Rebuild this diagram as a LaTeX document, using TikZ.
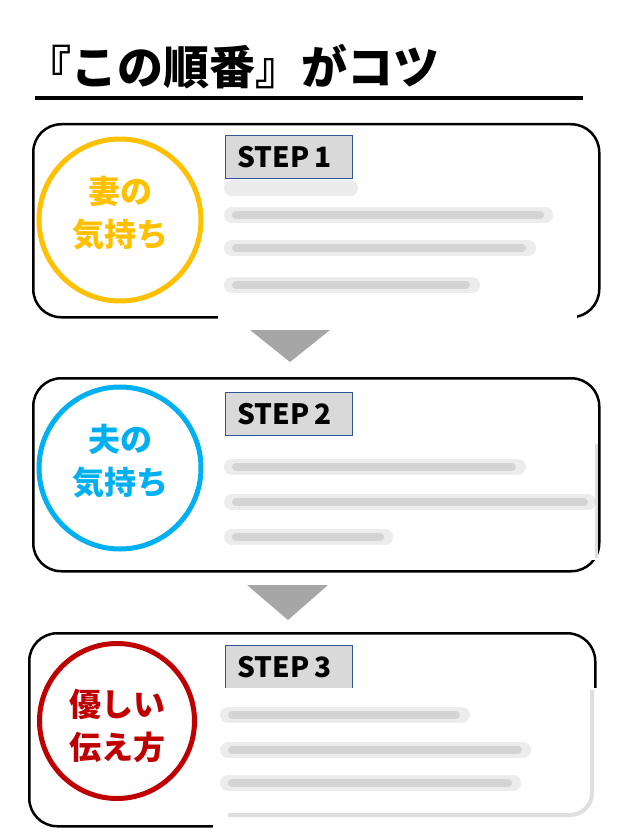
\documentclass[tikz,border=0pt]{standalone}
\usepackage{fontspec}
\setmainfont{Noto Sans CJK JP}
\usetikzlibrary{positioning}
\definecolor{tsuma}{HTML}{FFC000}
\definecolor{otto}{HTML}{00B0F0}
\definecolor{yasashii}{HTML}{C00000}
\definecolor{sankakuiro}{HTML}{A6A6A6}
\definecolor{stepwaku}{HTML}{2F5597}
\definecolor{stepnuri}{HTML}{D9D9D9}

\begin{document}
\begin{tikzpicture}[
    x=1pt, y=-1pt,
    waku/.style={
        draw, line width=2.5pt, rounded corners=28pt,
        minimum width=566pt, minimum height=193pt,
        anchor=north west, inner sep=0pt
    },
    maru/.style={
        circle, draw=#1, line width=5pt,
        minimum size=162pt, inner sep=0pt
    },
    marumoji/.style={
        text=#1, align=center, inner sep=0pt,
        font=\bfseries\fontsize{32}{43}\selectfont
    },
    stepbox/.style={
        draw=stepwaku, line width=0.8pt, fill=stepnuri, anchor=north west,
        minimum width=127pt, minimum height=43pt, inner xsep=12pt,
        text width=103pt, align=left,
        font=\bfseries\fontsize{28}{28}\selectfont
    },
    kakushi/.style={fill=white, draw=none},
    bokashi/.style={line width=16pt, line cap=round, draw=gray, opacity=0.15},
    bokashisen/.style={line width=8pt, line cap=round, draw=gray, opacity=0.22},
    sankaku/.style={fill=sankakuiro}
]
\useasboundingbox (0,0) rectangle (628,837);

% Title
\node[anchor=west, inner sep=0pt, font=\bfseries\fontsize{46}{46}\selectfont] (title) at (25,67) {『この順番』がコツ};
\draw[line width=4pt] (35,98) -- (583,98);

% Boxes
\node[waku] (waku1) at (32,123) {};
\node[waku] (waku2) at (32,377) {};
\node[waku] (waku3) at (28,632) {};

\node[maru=tsuma] (maru1) at (120,220) {};
\node[maru=otto] (maru2) at (120,468) {};
\node[maru=yasashii, minimum size=155pt] (maru3) at (117,721) {};
\node[marumoji=tsuma] (moji1) at ([yshift=7pt]maru1.center) {妻の\\気持ち};
\node[marumoji=otto] (moji2) at ([yshift=7pt]maru2.center) {夫の\\気持ち};
\node[marumoji=yasashii] (moji3) at ([yshift=-5pt]maru3.center) {優しい\\伝え方};

\node[stepbox, below right=12pt and 193pt of waku1.north west] (step1) {STEP\,1};
\node[stepbox, below right=15pt and 193pt of waku2.north west] (step2) {STEP\,2};
\node[stepbox, below right=13pt and 197pt of waku3.north west] (step3) {STEP\,3};

% Blurred text
\fill[kakushi] (218,180) rectangle (577,322);
\draw[bokashi] (232,188) -- (350,188);
\draw[bokashi] (232,215) -- (545,215);
\draw[bokashisen] (236,215) -- (540,215);
\draw[bokashi] (232,248) -- (528,248);
\draw[bokashisen] (236,248) -- (522,248);
\draw[bokashi] (232,285) -- (472,285);
\draw[bokashisen] (236,285) -- (466,285);

\fill[kakushi] (220,442) rectangle (598,560);
\draw[gray!25, line width=3pt] (596,444) -- (596,558);
\draw[bokashi] (232,467) -- (518,467);
\draw[bokashisen] (236,467) -- (512,467);
\draw[bokashi] (232,502) -- (588,502);
\draw[bokashisen] (236,502) -- (584,502);
\draw[bokashi] (232,537) -- (385,537);
\draw[bokashisen] (236,537) -- (380,537);

\fill[kakushi] (213,688) rectangle (628,837);
\draw[gray!25, line width=4pt, rounded corners=22pt] (592,690) -- (592,815) -- (228,815);
\draw[bokashi] (228,715) -- (462,715);
\draw[bokashisen] (232,715) -- (456,715);
\draw[bokashi] (228,750) -- (523,750);
\draw[bokashisen] (232,750) -- (518,750);
\draw[bokashi] (228,783) -- (513,783);
\draw[bokashisen] (232,783) -- (508,783);

% Triangles
\fill[sankaku] (250,330) -- (330,330) -- (290,362) -- cycle;
\fill[sankaku] (247,585) -- (328,585) -- (288,620) -- cycle;

\end{tikzpicture}
\end{document}
